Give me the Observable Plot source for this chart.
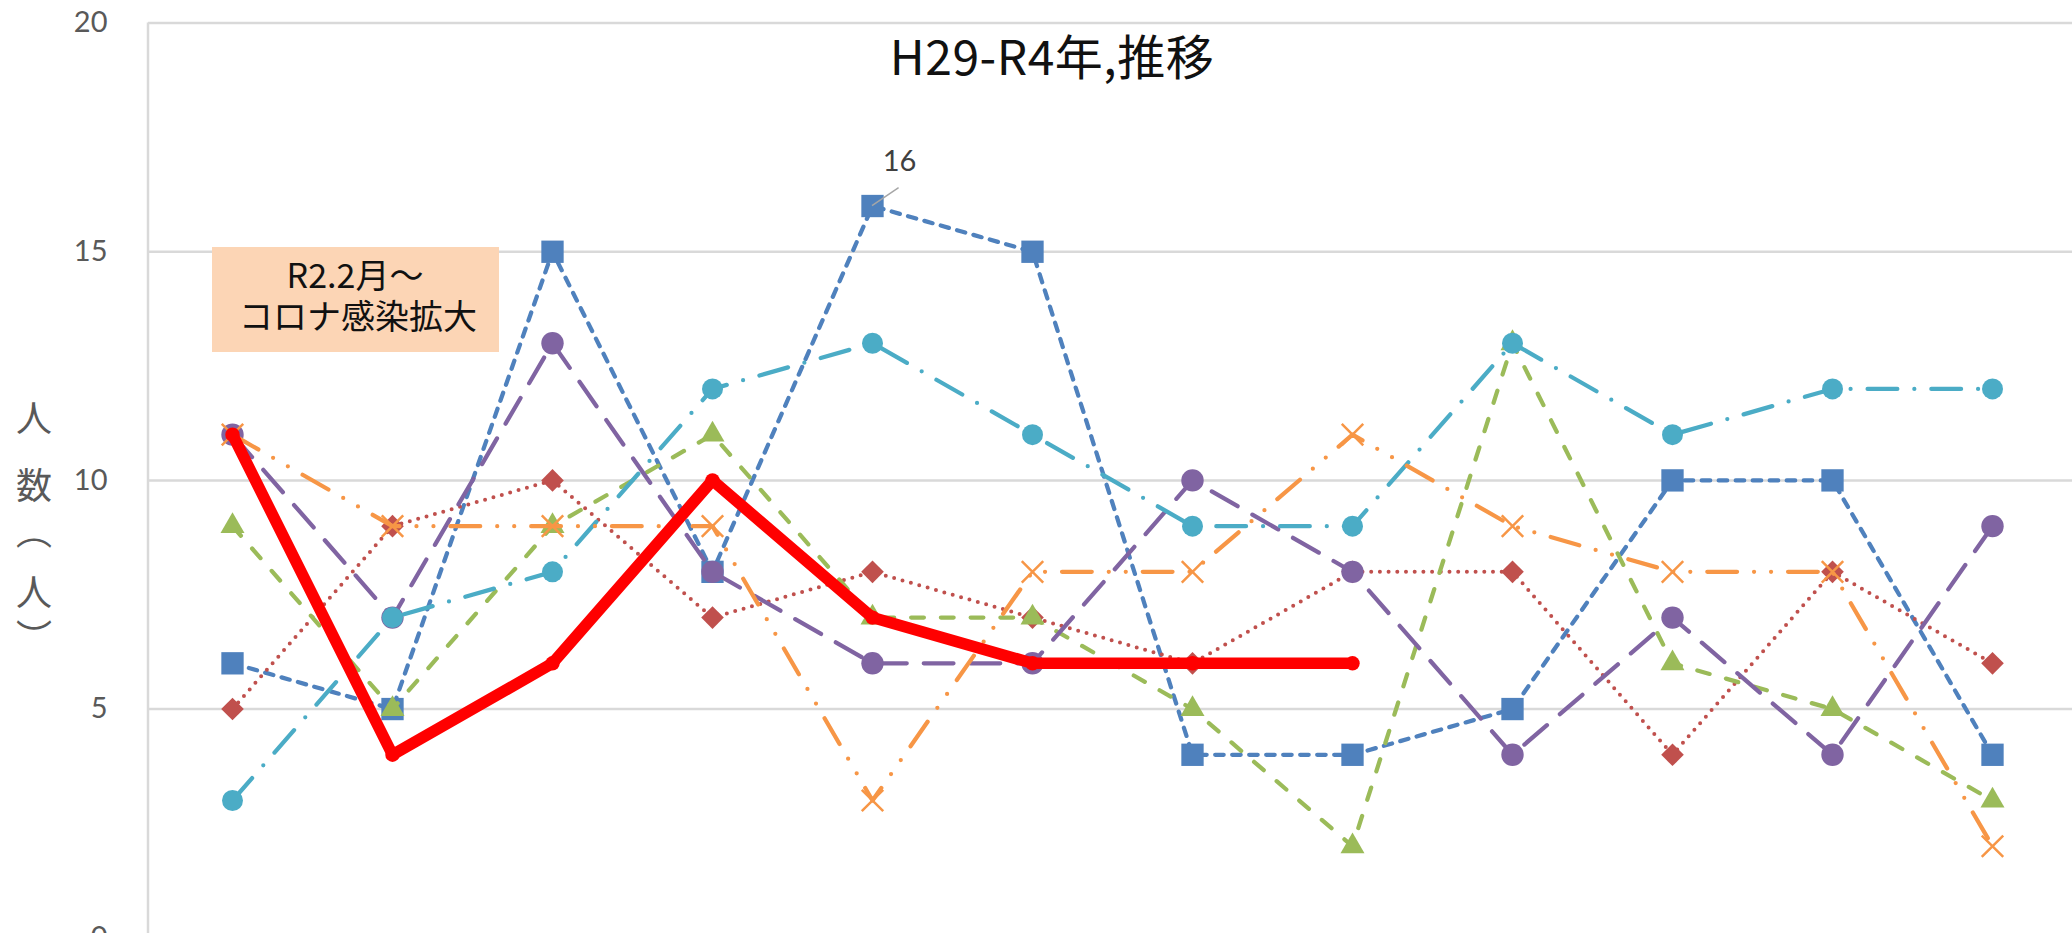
<!DOCTYPE html>
<html><head><meta charset="utf-8">
<script src="https://cdn.jsdelivr.net/npm/d3@7"></script>
<script src="https://cdn.jsdelivr.net/npm/@observablehq/plot@0.6"></script>
<style>html,body{margin:0;padding:0;background:#fff;overflow:hidden}</style>
</head><body><div id="chart"></div>
<script>
// ---- data ----
const months = ["1月","2月","3月","4月","5月","6月","7月","8月","9月","10月","11月","12月"];
const seriesNames = ["H29","H30","R1","R2","R3","R4","R5"];
const H29 = [6, 5, 15, 8, 16, 15, 4, 4, 5, 10, 10, 4];
const H30 = [5, 9, 10, 7, 8, 7, 6, 8, 8, 4, 8, 6];
const R1  = [9, 5, 9, 11, 7, 7, 5, 2, 13, 6, 5, 3];
const R2  = [11, 7, 13, 8, 6, 6, 10, 8, 4, 7, 4, 9];
const R3  = [3, 7, 8, 12, 13, 11, 9, 9, 13, 11, 12, 12];
const R4  = [11, 9, 9, 9, 3, 8, 8, 11, 9, 8, 8, 2];
const R5  = [11, 4, 6, 10, 7, 6, 6, 6];
const yTicks = [0, 5, 10, 15, 20];
const titleText = "H29-R4年,推移";
const yLabel = "人数（人）";
const noteLines = ["R2.2月～", "コロナ感染拡大"];
const labelSeries = 0, labelIndex = 4; // data label "16"

// ---- styles ----
const styles = [
  {color: "#4F81BD", dash: "8.5,8.5", width: 4.25, symbol: "square", r: 12.6},
  {color: "#C0504D", dash: "0,8.7", width: 4, symbol: "diamond2", r: 10.2},
  {color: "#9BBB59", dash: "12.75,17", width: 4.25, symbol: "triangle", r: 8.9},
  {color: "#8064A2", dash: "29.75,17", width: 4.25, symbol: "circle", r: 11.2},
  {color: "#4BACC6", dash: "29.75,17,0,17", width: 4.25, symbol: "circle", r: 10.5},
  {color: "#F79646", dash: "29.75,17,0,17,0,17", width: 4.25, symbol: "times", r: 9.8},
  {color: "#FF0000", dash: null, width: 11.5, symbol: "circle", r: 7.2}
];
const values = [H29, H30, R1, R2, R3, R4, R5];
const tables = values.map((arr, s) => arr.map((v, i) => ({month: months[i], value: v, series: seriesNames[s]})));

const FONT_JP = "'Noto Sans CJK JP', 'Noto Sans', sans-serif";
const FONT_NUM = "Lato, 'Noto Sans', sans-serif";

function leftLine(index, scales, vals, dims) {
  const g = d3.create("svg:g");
  g.append("line")
    .attr("x1", dims.marginLeft).attr("x2", dims.marginLeft)
    .attr("y1", scales.y(20)).attr("y2", dims.height)
    .attr("stroke", "#D9D9D9").attr("stroke-width", 2.5);
  return g.node();
}

function annotations(index, scales, vals, dims) {
  const g = d3.create("svg:g");
  // title
  g.append("text").text(titleText)
    .attr("x", 1052).attr("y", 75)
    .attr("text-anchor", "middle")
    .attr("font-family", FONT_JP).attr("font-size", 48).attr("fill", "#111")
    .attr("letter-spacing", 0.5);
  // note box
  g.append("rect").attr("x", 212).attr("y", 247).attr("width", 287).attr("height", 105).attr("fill", "#FCD5B5");
  g.append("text").text(noteLines[0]).attr("x", 355).attr("y", 288)
    .attr("text-anchor", "middle").attr("font-family", FONT_JP).attr("font-size", 34).attr("fill", "#111");
  g.append("text").text(noteLines[1]).attr("x", 358).attr("y", 329)
    .attr("text-anchor", "middle").attr("font-family", FONT_JP).attr("font-size", 34).attr("fill", "#111");
  // vertical y label
  const chars = Array.from(yLabel).map(c => c === "（" ? "︵" : c === "）" ? "︶" : c);
  const cy = [416, 483, 529, 590, 635];
  chars.forEach((c, i) => {
    g.append("text").text(c).attr("x", 34).attr("y", cy[i])
      .attr("text-anchor", "middle").attr("dominant-baseline", "central")
      .attr("font-family", FONT_JP).attr("font-size", 36).attr("fill", "#595959");
  });
  // data label leader
  const px = scales.x(months[labelIndex]), py = scales.y(values[labelSeries][labelIndex]);
  g.append("line").attr("x1", px).attr("y1", py).attr("x2", px + 26.6).attr("y2", py - 17.8)
    .attr("stroke", "#A6A6A6").attr("stroke-width", 1.5);
  return g.node();
}

const marks = [
  Plot.ruleY(yTicks.filter(d => d > 0), {stroke: "#D9D9D9", strokeWidth: 2.5}),
  leftLine,
  Plot.axisY({ticks: yTicks, tickSize: 0, tickPadding: 41, fontSize: 29, fontFamily: FONT_NUM, color: "#595959", label: null, tickFormat: d => String(d)})
];
tables.forEach((t, s) => {
  const st = styles[s];
  marks.push(Plot.line(t, {x: "month", y: "value", stroke: st.color, strokeWidth: st.width,
    strokeDasharray: st.dash || undefined, strokeLinecap: "round", strokeLinejoin: "round"}));
  if (st.symbol === "times") {
    marks.push(Plot.dot(t, {x: "month", y: "value", symbol: "times", r: st.r, stroke: st.color, strokeWidth: 2.5, fill: "none"}));
  } else {
    marks.push(Plot.dot(t, {x: "month", y: "value", symbol: st.symbol, r: st.r, fill: st.color, stroke: "none"}));
  }
});
marks.push(annotations);
marks.push(Plot.text([tables[labelSeries][labelIndex]], {x: "month", y: "value", text: d => String(d.value),
  dx: 27, dy: -44, fontSize: 29, fontFamily: FONT_NUM, fill: "#404040"}));

const chart = Plot.plot({
  width: 2072, height: 933,
  marginLeft: 148, marginRight: 0, marginTop: 22.6, marginBottom: 0,
  x: {type: "point", domain: months, range: [227.7, 1996], padding: 0, axis: null},
  y: {domain: [0, 20], range: [937.2, 22.6], axis: null},
  style: {background: "#fff", overflow: "hidden"},
  marks
});
document.getElementById("chart").appendChild(chart);
</script></body></html>
